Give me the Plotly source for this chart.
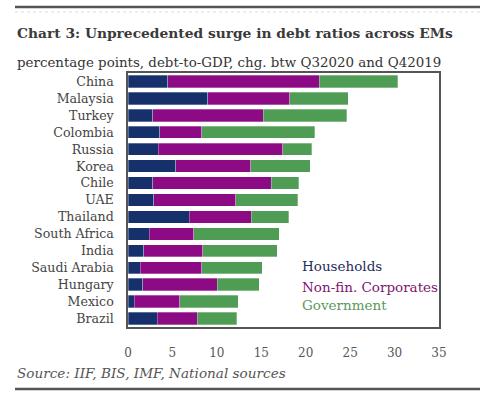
import plotly.graph_objects as go

countries = ["China", "Malaysia", "Turkey", "Colombia", "Russia", "Korea", "Chile", "UAE",
             "Thailand", "South Africa", "India", "Saudi Arabia", "Hungary", "Mexico", "Brazil"]
households = [4.5, 9.0, 2.8, 3.6, 3.4, 5.4, 2.8, 2.9, 6.9, 2.4, 1.8, 1.4, 1.65, 0.7, 3.3]
corporates = [17.0, 9.2, 12.4, 4.7, 14.0, 8.4, 13.3, 9.25, 6.95, 5.0, 6.6, 6.9, 8.4, 5.1, 4.5]
government = [8.85, 6.6, 9.4, 12.7, 3.3, 6.7, 3.1, 6.95, 4.25, 9.6, 8.4, 6.8, 4.7, 6.6, 4.45]
series_names = ["Households", "Non-fin. Corporates", "Government"]
colors = ["#15306b", "#8c0a84", "#4f9d55"]
xticks = [0, 5, 10, 15, 20, 25, 30, 35]

SERIF = "DejaVu Serif"

fig = go.Figure()
for name, vals, col in zip(series_names, [households, corporates, government], colors):
    fig.add_trace(go.Bar(
        y=countries, x=vals, name=name, orientation="h",
        marker=dict(color=col, line=dict(color="rgba(255,255,255,0.6)", width=0.5)),
        showlegend=False,
    ))

W, H = 492, 395
L, R, T, B = 128, 439, 73, 327

def px(x):
    return (x - L) / (R - L)

def py(y):
    return (B - y) / (B - T)

fig.update_layout(
    width=W, height=H,
    margin=dict(l=L, r=W - R, t=T, b=H - B),
    paper_bgcolor="white", plot_bgcolor="white",
    barmode="stack", bargap=0.27,
    font=dict(family=SERIF, color="#444"),
)
fig.update_xaxes(
    range=[0, 35], tickvals=xticks, ticktext=[str(v) for v in xticks],
    showgrid=False, zeroline=False,
    showline=True, mirror=True, linecolor="#555", linewidth=1.5,
    ticks="outside", ticklen=14, tickcolor="rgba(0,0,0,0)",
    tickfont=dict(family=SERIF, size=12, color="#555"),
)
fig.update_yaxes(
    categoryorder="array", categoryarray=countries, autorange="reversed",
    showgrid=False, zeroline=False,
    showline=True, mirror=True, linecolor="#555", linewidth=1.5,
    ticks="outside", ticklen=10, tickcolor="rgba(0,0,0,0)",
    tickfont=dict(family=SERIF, size=12.6, color="#444"),
)

# header/footer rules
fig.add_shape(type="line", xref="paper", yref="paper", x0=px(15), x1=px(480), y0=py(7), y1=py(7),
              line=dict(color="#555", width=2.5))
fig.add_shape(type="line", xref="paper", yref="paper", x0=px(15), x1=px(480), y0=py(12), y1=py(12),
              line=dict(color="#ddd", width=1, dash="dot"))
fig.add_shape(type="line", xref="paper", yref="paper", x0=px(15), x1=px(480), y0=py(389), y1=py(389),
              line=dict(color="#555", width=2.5))

fig.add_annotation(text="<b>Chart 3: Unprecedented surge in debt ratios across EMs</b>",
                   xref="paper", yref="paper", x=px(15), y=py(33), xanchor="left", yanchor="middle",
                   showarrow=False, font=dict(family=SERIF, size=13.8, color="#3a3a3a"))
fig.add_annotation(text="percentage points, debt-to-GDP, chg. btw Q32020 and Q42019",
                   xref="paper", yref="paper", x=px(15), y=py(62), xanchor="left", yanchor="middle",
                   showarrow=False, font=dict(family=SERIF, size=13.4, color="#333"))
fig.add_annotation(text="<i>Source: IIF, BIS, IMF, National sources</i>",
                   xref="paper", yref="paper", x=px(15), y=py(373), xanchor="left", yanchor="middle",
                   showarrow=False, font=dict(family=SERIF, size=13.6, color="#555"))

legend_y = [266, 287, 305]
legend_colors = ["#1f2d5c", "#7d1670", "#5a9a5a"]
for name, yy, col in zip(series_names, legend_y, legend_colors):
    fig.add_annotation(text=name, xref="paper", yref="paper", x=px(300), y=py(yy),
                       xanchor="left", yanchor="middle", showarrow=False,
                       font=dict(family=SERIF, size=13.5, color=col))

fig.write_html("out.html", config={"displayModeBar": False},
               post_script="document.body.style.margin='0';")
